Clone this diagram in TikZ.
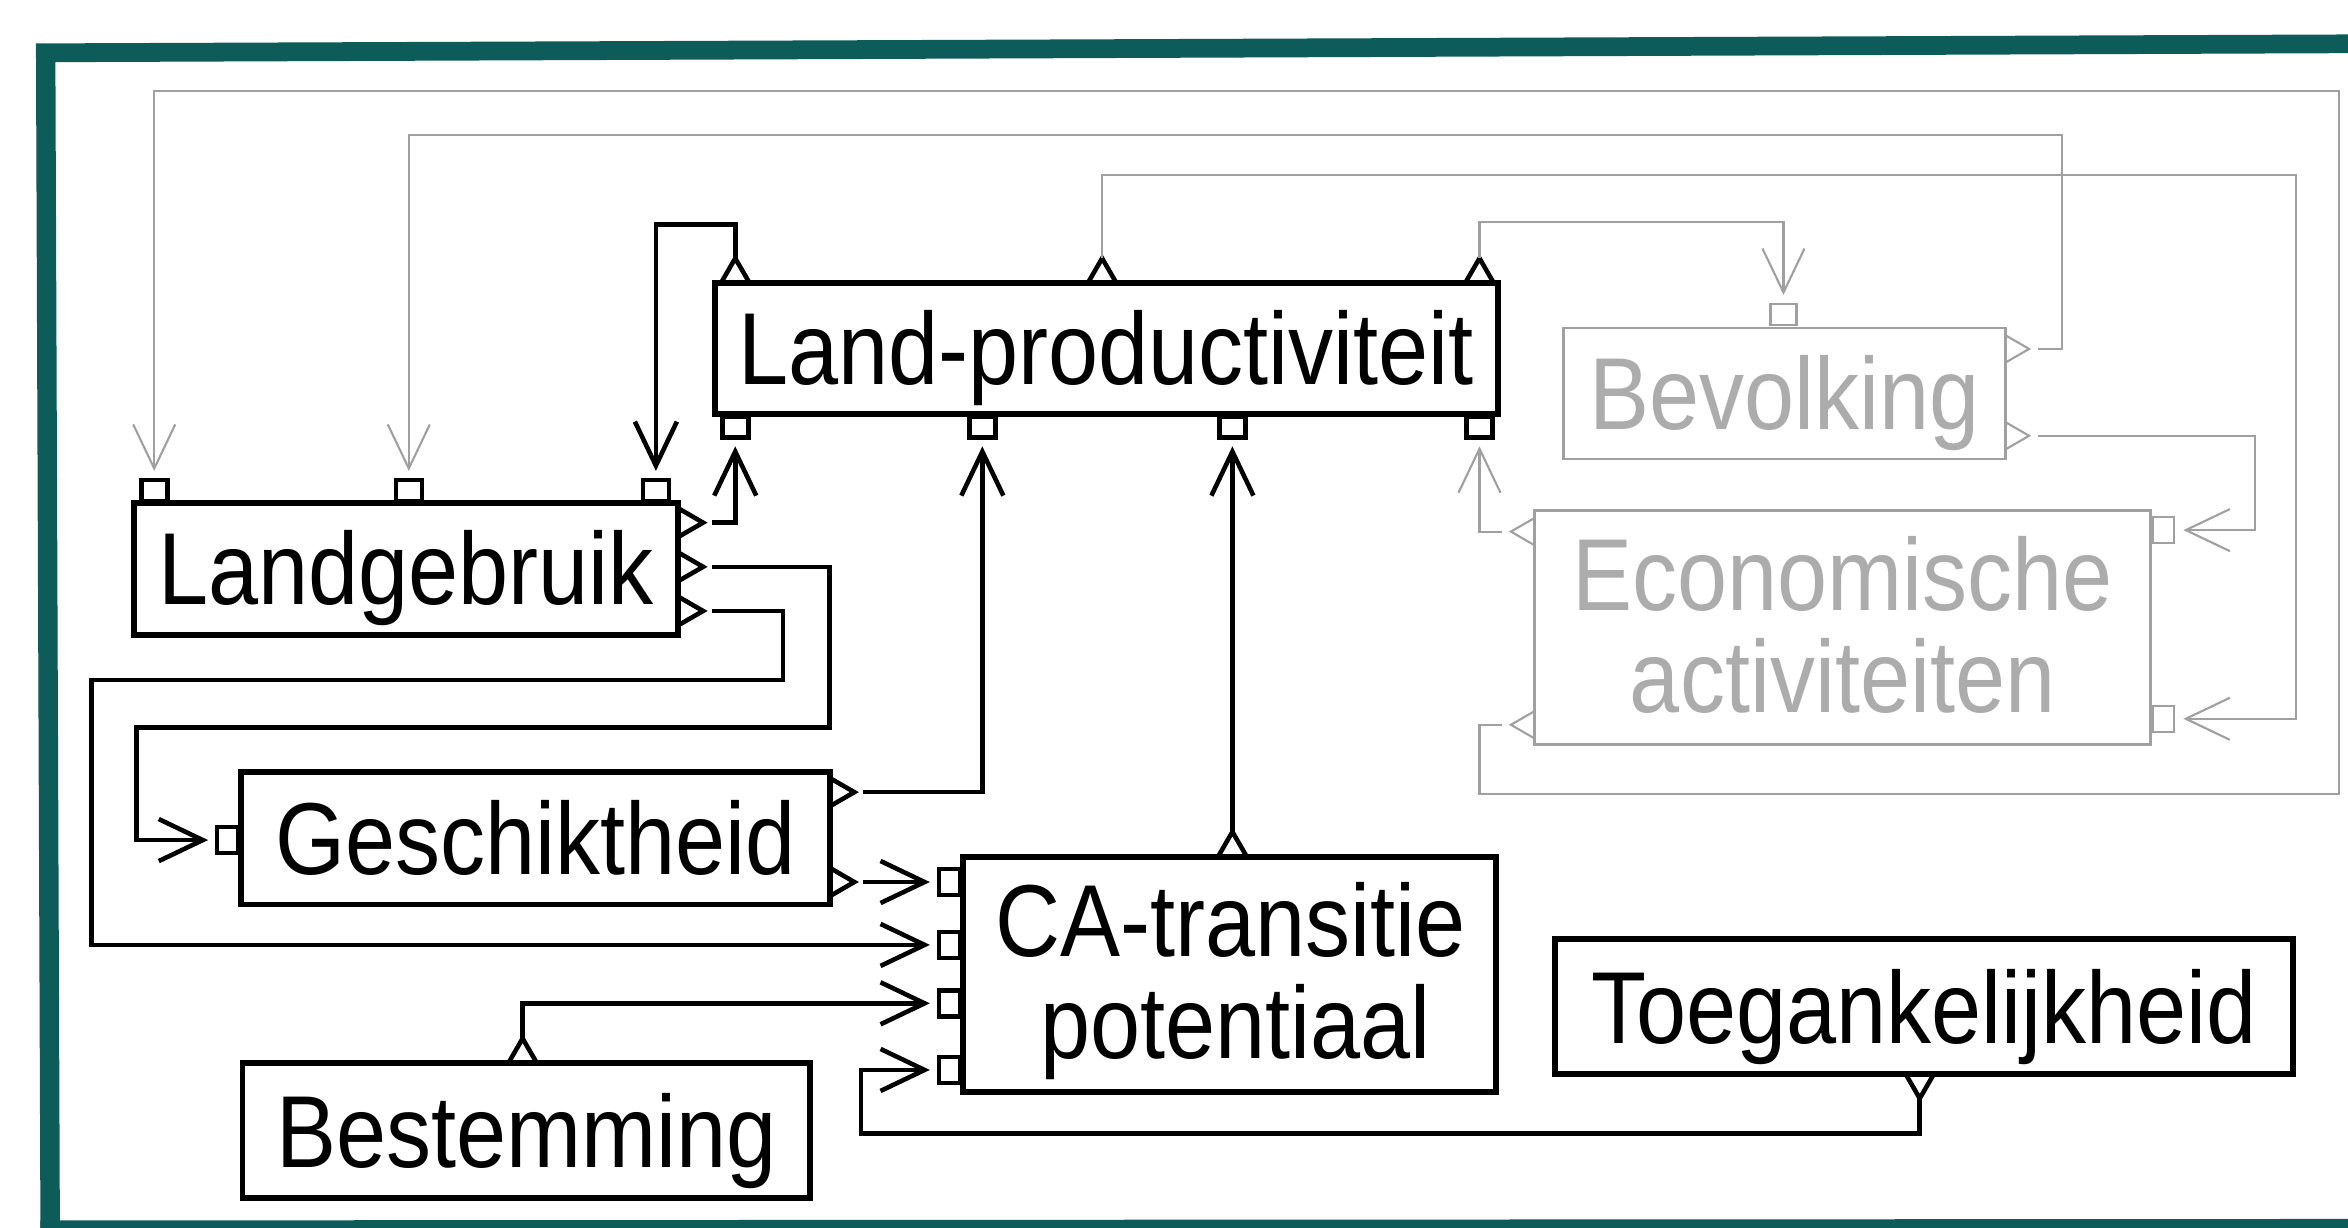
\documentclass[tikz,border=0pt]{standalone}
\usepackage{fontspec}
\newfontfamily\diafont[FakeStretch=0.88]{Liberation Sans}
\usetikzlibrary{arrows.meta,shapes.geometric}

\definecolor{frameteal}{RGB}{14,92,90}
\definecolor{softgray}{RGB}{160,160,160}
\definecolor{softtext}{RGB}{172,172,172}

\begin{document}
\begin{tikzpicture}[x=0.014974cm, y=-0.014974cm,
  blk/.style={draw=black, line width=1.7pt, fill=white, inner sep=0pt, outer sep=0pt},
  blkgray/.style={draw=softgray, line width=0.8pt, fill=white, inner sep=0pt, outer sep=0pt},
  lbl/.style={font=\diafont\fontsize{29.1pt}{34pt}\selectfont, inner sep=0pt, anchor=base},
  lblgray/.style={lbl, text=softtext},
  port/.style={draw=black, line width=1.3pt, fill=white, inner sep=0pt, outer sep=0pt},
  portgray/.style={port, draw=softgray, line width=0.6pt},
  hsq/.style={rectangle, minimum width=2.6mm, minimum height=2.1mm},
  vsq/.style={rectangle, minimum width=2.1mm, minimum height=2.6mm},
  tri/.style={regular polygon, regular polygon sides=3, minimum size=3.3mm},
  conn/.style={draw=black, line width=1.3pt, -{Straight Barb[length=4.4mm, width=4.2mm]}, shorten >=0.9mm},
  conngray/.style={conn, draw=softgray, line width=0.6pt},
  gapstart/.style={shorten <=0.9mm}
]
\useasboundingbox (0,0) rectangle (1568,820);
\fill[white] (0,0) rectangle (1568,820);

% frame
\fill[frameteal] (24,29) -- (1568,23) -- (1568,35.5) -- (37,41.5) -- (40,820) -- (27,820) -- cycle;
\fill[frameteal] (27,815) -- (1568,814) -- (1568,820) -- (27,820) -- cycle;

% ports of Land-productiviteit
\node[port,tri] (lp-t1) at (491,183.5) {};
\node[port,tri] (lp-t2) at (736,183.5) {};
\node[port,tri] (lp-t3) at (988,183.5) {};
\node[port,hsq] (lp-s1) at (491,285) {};
\node[port,hsq] (lp-s2) at (656,285) {};
\node[port,hsq] (lp-s3) at (823,285) {};
\node[port,hsq] (lp-s4) at (988,285) {};
% ports of Landgebruik
\node[port,hsq] (lg-s1) at (103,327.5) {};
\node[port,hsq] (lg-s2) at (273,327.5) {};
\node[port,hsq] (lg-s3) at (438,327.5) {};
\node[port,tri,rotate=-90] (lg-o1) at (458.5,349) {};
\node[port,tri,rotate=-90] (lg-o2) at (458.5,378.5) {};
\node[port,tri,rotate=-90] (lg-o3) at (458.5,408) {};
% ports of Geschiktheid
\node[port,vsq] (gs-in) at (152,561) {};
\node[port,tri,rotate=-90] (gs-o1) at (559.5,529) {};
\node[port,tri,rotate=-90] (gs-o2) at (559.5,589) {};
% ports of CA-transitie potentiaal
\node[port,tri] (ca-t) at (823,566.5) {};
\node[port,vsq] (ca-in1) at (634,589) {};
\node[port,vsq] (ca-in2) at (634,631) {};
\node[port,vsq] (ca-in3) at (634,670) {};
\node[port,vsq] (ca-in4) at (634,714.5) {};
% ports of Bestemming and Toegankelijkheid
\node[port,tri] (bs-t) at (349,704.5) {};
\node[port,tri,rotate=180] (tg-t) at (1282,722.5) {};
% ports of Bevolking
\node[portgray,hsq] (bv-s) at (1191,210) {};
\node[portgray,tri,rotate=-90] (bv-o1) at (1344,233) {};
\node[portgray,tri,rotate=-90] (bv-o2) at (1344,291) {};
% ports of Economische activiteiten
\node[portgray,tri,rotate=90] (ea-o1) at (1020,355) {};
\node[portgray,tri,rotate=90] (ea-o2) at (1020,484) {};
\node[portgray,vsq] (ea-s1) at (1445,354) {};
\node[portgray,vsq] (ea-s2) at (1445,480) {};

% blocks
\node[blk, minimum width=7.824cm, minimum height=1.310cm] (lp) at (738.75,232.75) {};
\node[blk, minimum width=5.443cm, minimum height=1.318cm] (lg) at (271.25,380) {};
\node[blk, minimum width=5.885cm, minimum height=1.325cm] (gs) at (357.5,559.75) {};
\node[blk, minimum width=5.331cm, minimum height=2.351cm] (ca) at (821,650.5) {};
\node[blk, minimum width=5.675cm, minimum height=1.348cm] (bs) at (351.5,755) {};
\node[blk, minimum width=7.375cm, minimum height=1.348cm] (tg) at (1284.75,672) {};
\node[blkgray, minimum width=4.417cm, minimum height=1.310cm] (bv) at (1191.5,262.75) {};
\node[blkgray, minimum width=6.154cm, minimum height=2.336cm] (ea) at (1230.5,419) {};

% block labels
\node[lbl] (lp-text) at (738.5,257) {Land-productiviteit};
\node[lbl] (lg-text) at (271,403.5) {Landgebruik};
\node[lbl] (gs-text) at (357.5,584) {Geschiktheid};
\node[lbl] (ca-text1) at (822,639) {CA-transitie};
\node[lbl] (ca-text2) at (825,707) {potentiaal};
\node[lbl] (bs-text) at (351.5,779.5) {Bestemming};
\node[lbl] (tg-text) at (1285,696.5) {Toegankelijkheid};
\node[lblgray] (bv-text) at (1191.5,287) {Bevolking};
\node[lblgray] (ea-text1) at (1230.5,407.5) {Economische};
\node[lblgray] (ea-text2) at (1230.5,475.5) {activiteiten};

% black links
\draw[conn] (lp-t1.corner 1) |- (438,150) -- (lg-s3.north);
\draw[conn,gapstart] (lg-o1.corner 1) -| (lp-s1.south);
\draw[conn,gapstart] (lg-o2.corner 1) -| (554,486) -| (91,561) -- (gs-in.west);
\draw[conn,gapstart] (lg-o3.corner 1) -| (523,454) -| (61,631) -- (ca-in2.west);
\draw[conn,gapstart] (gs-o1.corner 1) -| (lp-s2.south);
\draw[conn,gapstart] (gs-o2.corner 1) -- (ca-in1.west);
\draw[conn] (ca-t.corner 1) -- (lp-s3.south);
\draw[conn] (bs-t.corner 1) |- (ca-in3.west);
\draw[conn] (tg-t.corner 1) |- (575,757) |- (ca-in4.west);

% grey links
\draw[conngray] (lp-t3.corner 1) |- (1191,148) -- (bv-s.north);
\draw[conngray] (lp-t2.corner 1) |- (1533,117) |- (ea-s2.east);
\draw[conngray,gapstart] (bv-o1.corner 1) -| (1377,90) -| (lg-s2.north);
\draw[conngray,gapstart] (bv-o2.corner 1) -| (1506,354) -- (ea-s1.east);
\draw[conngray,gapstart] (ea-o1.corner 1) -| (lp-s4.south);
\draw[conngray,gapstart] (ea-o2.corner 1) -| (988,530) -| (1562,61) -| (lg-s1.north);
\end{tikzpicture}
\end{document}
